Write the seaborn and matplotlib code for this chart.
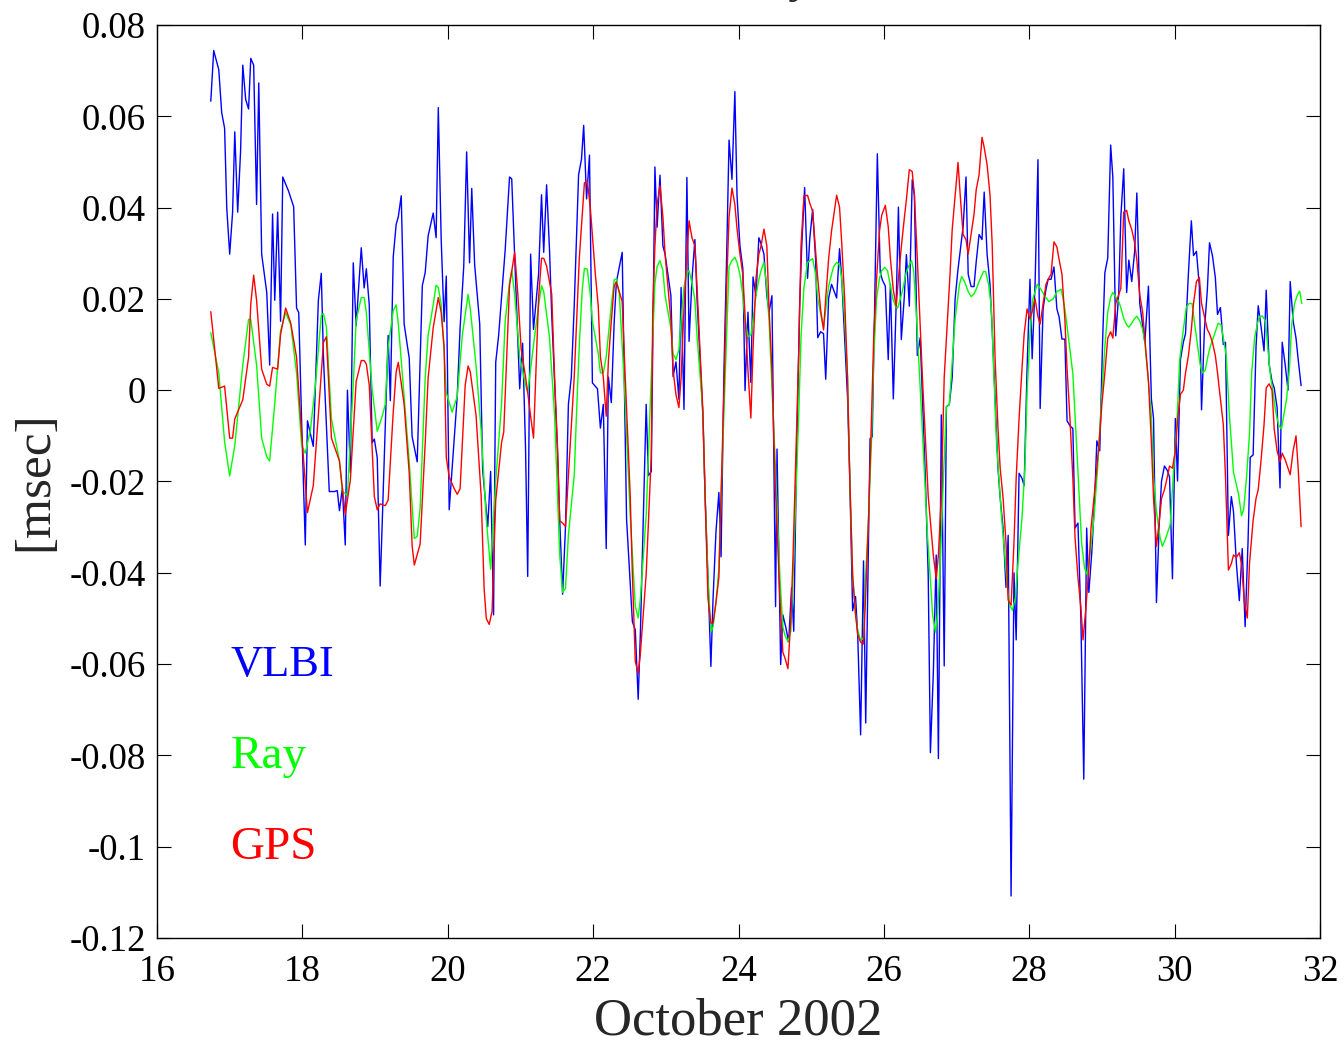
import matplotlib
matplotlib.use("Agg")
import matplotlib.pyplot as plt
import seaborn as sns
import pandas as pd
from matplotlib.ticker import FixedLocator, FixedFormatter

# ---------------- data (day of October 2002, msec) ----------------
vlbi_day = [16.74, 16.78, 16.85, 16.89, 16.93, 16.96, 17.00, 17.04, 17.07, 17.11, 17.15, 17.18, 17.22, 17.26, 17.29, 17.33, 17.37, 17.40, 17.44, 17.51, 17.55, 17.59, 17.62, 17.66, 17.70, 17.73, 17.81, 17.88, 17.92, 17.95, 17.99, 18.04, 18.07, 18.15, 18.22, 18.26, 18.29, 18.37, 18.44, 18.48, 18.51, 18.55, 18.59, 18.62, 18.66,
            18.70, 18.74, 18.81, 18.85, 18.88, 18.92, 18.96, 18.99, 19.03, 19.07, 19.10, 19.18, 19.21, 19.25, 19.29, 19.32, 19.36, 19.40, 19.47, 19.51, 19.58, 19.65, 19.69, 19.73, 19.80, 19.84, 19.87, 19.91, 19.95, 19.98, 20.02, 20.09, 20.13, 20.17, 20.22, 20.26, 20.30, 20.33, 20.37, 20.44, 20.48, 20.55, 20.59, 20.63, 20.66, 20.70,
            20.79, 20.85, 20.88, 20.92, 20.99, 21.03, 21.07, 21.10, 21.14, 21.18, 21.25, 21.29, 21.32, 21.36, 21.40, 21.43, 21.51, 21.54, 21.58, 21.62, 21.66, 21.70, 21.74, 21.80, 21.84, 21.87, 21.91, 21.95, 21.99, 22.06, 22.10, 22.14, 22.18, 22.21, 22.25, 22.29, 22.32, 22.40, 22.46, 22.54, 22.58, 22.62, 22.65, 22.69, 22.73, 22.76, 22.80,
            22.85, 22.88, 22.92, 22.96, 22.99, 23.03, 23.07, 23.10, 23.14, 23.18, 23.21, 23.25, 23.29, 23.32, 23.36, 23.40, 23.43, 23.51, 23.54, 23.58, 23.62, 23.65, 23.69, 23.73, 23.76, 23.80, 23.84, 23.87, 23.91, 23.95, 23.98, 24.02, 24.06, 24.09, 24.13, 24.17, 24.20, 24.24, 24.28, 24.31, 24.35, 24.39, 24.42, 24.46, 24.51, 24.53, 24.58, 24.61, 24.65, 24.69, 24.73, 24.76, 24.80, 24.84, 24.87,
            24.91, 24.95, 24.98, 25.02, 25.06, 25.09, 25.13, 25.17, 25.20, 25.24, 25.28, 25.31, 25.35, 25.39, 25.42, 25.46, 25.50, 25.53, 25.57, 25.61, 25.64, 25.68, 25.72, 25.75, 25.79, 25.81, 25.84, 25.87, 25.91, 25.95, 25.98, 26.02, 26.06, 26.09, 26.13, 26.17, 26.20, 26.24, 26.28, 26.31, 26.35, 26.39, 26.42, 26.46, 26.50, 26.57, 26.61, 26.64, 26.68, 26.72, 26.75, 26.79, 26.83, 26.86, 26.90, 26.94,
            26.98, 27.02, 27.09, 27.13, 27.16, 27.20, 27.24, 27.27, 27.31, 27.35, 27.38, 27.42, 27.46, 27.49, 27.53, 27.57, 27.60, 27.64, 27.68, 27.71, 27.75, 27.79, 27.82, 27.86, 27.90, 27.93, 27.97, 28.01, 28.04, 28.08, 28.12, 28.15, 28.19, 28.23, 28.26, 28.30, 28.34, 28.38, 28.41, 28.45, 28.49, 28.52, 28.56, 28.60, 28.63, 28.67, 28.71, 28.75, 28.79, 28.82, 28.86, 28.90, 28.93, 28.97, 29.01,
            29.04, 29.08, 29.12, 29.15, 29.19, 29.23, 29.26, 29.30, 29.34, 29.37, 29.41, 29.45, 29.48, 29.52, 29.59, 29.64, 29.68, 29.71, 29.75, 29.79, 29.82, 29.86, 29.90, 29.93, 29.97, 30.01, 30.04, 30.08, 30.12, 30.15, 30.19, 30.23, 30.26, 30.30, 30.34, 30.37, 30.41, 30.45, 30.48, 30.52, 30.56, 30.59, 30.63, 30.67, 30.70, 30.74, 30.78, 30.81, 30.85, 30.89, 30.93, 30.97, 31.01, 31.04, 31.08, 31.12, 31.15, 31.19, 31.23, 31.26, 31.30, 31.34, 31.37, 31.41, 31.45, 31.48, 31.52, 31.56, 31.59, 31.63, 31.67, 31.70, 31.74]
vlbi_msec = [0.0633, 0.0744, 0.0702, 0.0608, 0.0574, 0.0398, 0.0298, 0.0390, 0.0566, 0.0390, 0.0524, 0.0712, 0.0637, 0.0616, 0.0727, 0.0712, 0.0407, 0.0673, 0.0298, 0.0214, 0.0055, 0.0386, 0.0197, 0.0390, 0.0151, 0.0467, 0.0436, 0.0402, 0.0180, 0.0170, -0.0071, -0.0339, -0.0067, -0.0123, 0.0197, 0.0256, 0.0072, -0.0222, -0.0222, -0.0220, -0.0264, -0.0214, -0.0339, 0.0000, -0.0180,
             0.0279, 0.0141, 0.0312, 0.0224, 0.0266, 0.0187, -0.0115, -0.0107, -0.0148, -0.0429, -0.0283, 0.0120, -0.0023, 0.0292, 0.0363, 0.0380, 0.0426, 0.0145, 0.0070, -0.0102, -0.0157, 0.0229, 0.0258, 0.0338, 0.0388, 0.0334, 0.0619, 0.0329, 0.0150, 0.0250, -0.0262, -0.0102, -0.0014, 0.0137, 0.0271, 0.0522, 0.0279, 0.0442, 0.0275, 0.0145, -0.0174, -0.0299, -0.0178, -0.0492, 0.0061, 0.0120,
             0.0307, 0.0467, 0.0463, 0.0298, 0.0003, 0.0103, -0.0126, -0.0408, 0.0298, 0.0133, 0.0255, 0.0428, 0.0302, 0.0450, 0.0307, 0.0167, -0.0135, -0.0282, -0.0447, -0.0299, -0.0031, 0.0029, 0.0185, 0.0472, 0.0506, 0.0580, 0.0419, 0.0515, 0.0016, 0.0003, -0.0083, -0.0031, -0.0347, 0.0029, -0.0027, 0.0151, 0.0237, 0.0302, -0.0282, -0.0507, -0.0525, -0.0677, -0.0533, -0.0282, -0.0031, -0.0187, -0.0178,
             0.0489, 0.0357, 0.0471, 0.0316, 0.0298, 0.0253, 0.0207, 0.0030, 0.0062, -0.0020, 0.0225, -0.0042, 0.0466, 0.0107, 0.0243, 0.0330, 0.0198, -0.0056, -0.0229, -0.0410, -0.0605, -0.0456, -0.0310, -0.0224, -0.0365, 0.0044, 0.0316, 0.0548, 0.0462, 0.0654, 0.0425, 0.0316, 0.0266, -0.0001, 0.0171, 0.0017, 0.0248, 0.0207, 0.0334, 0.0321, 0.0298, 0.0207, 0.0171, 0.0207, -0.0474, -0.0129, -0.0601, -0.0492, -0.0519, -0.0551, -0.0433, -0.0528, -0.0138, 0.0180, 0.0316,
             0.0444, 0.0245, 0.0331, 0.0396, 0.0288, 0.0115, 0.0128, 0.0124, 0.0024, 0.0202, 0.0232, 0.0219, 0.0202, 0.0310, 0.0245, 0.0115, -0.0015, -0.0188, -0.0483, -0.0452, -0.0535, -0.0755, -0.0374, -0.0729, -0.0318, -0.0106, -0.0102, 0.0158, 0.0518, 0.0258, 0.0241, 0.0228, 0.0067, 0.0232, -0.0019, 0.0193, 0.0401, 0.0111, 0.0202, 0.0297, 0.0184, 0.0461, 0.0427, 0.0076, 0.0115, -0.0188, -0.0405, -0.0794, -0.0621, -0.0361, -0.0807, -0.0054, -0.0604, -0.0036, -0.0032, 0.0028,
             0.0200, 0.0265, 0.0358, 0.0467, 0.0254, 0.0227, 0.0227, 0.0281, 0.0341, 0.0330, 0.0434, 0.0298, 0.0232, 0.0134, -0.0018, -0.0171, -0.0236, -0.0302, -0.0432, -0.0318, -0.1108, -0.0400, -0.0547, -0.0182, -0.0193, -0.0209, 0.0047, 0.0243, 0.0069, 0.0232, 0.0505, -0.0040, 0.0178, 0.0221, 0.0243, 0.0243, 0.0270, 0.0178, 0.0161, 0.0112, 0.0112, -0.0067, -0.0078, -0.0084, -0.0302, -0.0291, -0.0498, -0.0852, -0.0302, -0.0443, -0.0356, -0.0236, -0.0111, -0.0133, 0.0112,
             0.0257, 0.0290, 0.0537, 0.0466, 0.0119, 0.0209, 0.0380, 0.0485, 0.0214, 0.0285, 0.0238, 0.0304, 0.0432, 0.0190, 0.0105, 0.0228, -0.0019, -0.0062, -0.0465, -0.0285, -0.0199, -0.0166, -0.0176, -0.0190, -0.0413, -0.0062, -0.0199, 0.0067, 0.0105, 0.0124, 0.0257, 0.0371, 0.0295, 0.0304, 0.0228, -0.0043, 0.0133, 0.0219, 0.0323, 0.0295, 0.0247, 0.0166, 0.0181, 0.0100, 0.0105, -0.0318, -0.0233, -0.0266, -0.0380, -0.0461, -0.0347, -0.0518, -0.0332, -0.0147, -0.0142, 0.0095, 0.0185, 0.0138, 0.0086, 0.0219, 0.0057, 0.0019, 0.0005, -0.0038, -0.0214, 0.0105, 0.0057, 0.0000, 0.0238, 0.0152, 0.0114, 0.0067, 0.0010]

ray_day = [16.74, 16.85, 16.93, 17.00, 17.07, 17.18, 17.26, 17.29, 17.37, 17.44, 17.51, 17.55, 17.62, 17.70, 17.77, 17.84, 17.92, 17.99, 18.04, 18.11, 18.18, 18.26, 18.29, 18.33, 18.40, 18.51, 18.55, 18.62,
           18.70, 18.74, 18.81, 18.85, 18.88, 18.96, 19.03, 19.10, 19.14, 19.18, 19.25, 19.29, 19.32, 19.40, 19.47, 19.54, 19.58, 19.62, 19.69, 19.73, 19.80, 19.84, 19.87, 19.91, 19.95, 19.98, 20.06, 20.13, 20.20, 20.28, 20.31, 20.39, 20.46, 20.53, 20.59, 20.66, 20.74,
           20.79, 20.85, 20.88, 20.92, 20.99, 21.07, 21.10, 21.18, 21.25, 21.29, 21.32, 21.40, 21.47, 21.51, 21.54, 21.58, 21.62, 21.66, 21.74, 21.77, 21.81, 21.85, 21.88, 21.92, 21.96, 21.99, 22.07, 22.10, 22.14, 22.18, 22.25, 22.29, 22.32, 22.36, 22.43, 22.51, 22.58, 22.62, 22.65, 22.73, 22.80,
           22.85, 22.88, 22.92, 22.96, 22.99, 23.07, 23.10, 23.14, 23.18, 23.21, 23.25, 23.29, 23.32, 23.36, 23.40, 23.43, 23.51, 23.54, 23.58, 23.62, 23.65, 23.69, 23.73, 23.76, 23.80, 23.84, 23.87, 23.91, 23.95, 23.98, 24.02, 24.06, 24.09, 24.13, 24.17, 24.20, 24.24, 24.28, 24.31, 24.35, 24.39, 24.42, 24.50, 24.57, 24.61, 24.64, 24.68, 24.72, 24.75, 24.79, 24.83, 24.86, 24.90,
           24.95, 24.98, 25.02, 25.06, 25.09, 25.13, 25.17, 25.20, 25.24, 25.28, 25.31, 25.35, 25.39, 25.42, 25.46, 25.50, 25.53, 25.57, 25.61, 25.64, 25.68, 25.72, 25.75, 25.79, 25.83, 25.86, 25.90, 25.94, 25.97, 26.01, 26.05, 26.08, 26.12, 26.16, 26.19, 26.23, 26.27, 26.30, 26.34, 26.38, 26.41, 26.45, 26.52, 26.60, 26.67, 26.71, 26.74, 26.78, 26.82, 26.86, 26.90,
           26.98, 27.04, 27.07, 27.11, 27.16, 27.20, 27.24, 27.27, 27.31, 27.37, 27.40, 27.44, 27.48, 27.51, 27.55, 27.62, 27.70, 27.73, 27.77, 27.81, 27.84, 27.90, 27.94, 27.97, 28.01, 28.05, 28.11, 28.16, 28.22, 28.27, 28.33, 28.38, 28.44, 28.49, 28.55, 28.60, 28.65, 28.72, 28.76, 28.80, 28.83, 28.89, 28.94, 29.00,
           29.04, 29.08, 29.12, 29.15, 29.19, 29.23, 29.26, 29.30, 29.34, 29.37, 29.41, 29.45, 29.48, 29.52, 29.56, 29.59, 29.64, 29.68, 29.71, 29.75, 29.80, 29.83, 29.87, 29.91, 29.94, 29.98, 30.03, 30.07, 30.12, 30.16, 30.20, 30.24, 30.27, 30.31, 30.35, 30.38, 30.42, 30.46, 30.49, 30.53, 30.57, 30.60, 30.64, 30.68, 30.71, 30.75, 30.81, 30.88, 30.92, 30.95, 30.99, 31.03, 31.06, 31.10, 31.14, 31.17, 31.21, 31.25, 31.28, 31.32, 31.35, 31.39, 31.43, 31.47, 31.50, 31.54, 31.58, 31.61, 31.65, 31.69, 31.72, 31.75]
ray_msec = [0.0126, 0.0038, -0.0113, -0.0188, -0.0121, 0.0055, 0.0155, 0.0155, 0.0055, -0.0105, -0.0146, -0.0155, -0.0029, 0.0130, 0.0170, 0.0143, 0.0038, -0.0121, -0.0138, -0.0088, 0.0013, 0.0164, 0.0168, 0.0139, -0.0063, -0.0155, -0.0222, -0.0230,
            0.0013, 0.0153, 0.0203, 0.0203, 0.0170, 0.0002, -0.0090, -0.0056, -0.0031, 0.0095, 0.0174, 0.0187, 0.0145, -0.0014, -0.0157, -0.0325, -0.0320, -0.0258, 0.0028, 0.0120, 0.0187, 0.0230, 0.0225, 0.0187, 0.0086, -0.0006, -0.0048, -0.0014, 0.0120, 0.0210, 0.0178, 0.0053, -0.0090, -0.0283, -0.0392, -0.0199, -0.0031,
            0.0151, 0.0237, 0.0263, 0.0211, 0.0073, 0.0012, -0.0005, 0.0099, 0.0185, 0.0229, 0.0216, 0.0116, -0.0057, -0.0230, -0.0360, -0.0443, -0.0434, -0.0317, -0.0187, -0.0057, 0.0099, 0.0220, 0.0267, 0.0265, 0.0211, 0.0151, 0.0081, 0.0038, 0.0038, 0.0073, 0.0185, 0.0242, 0.0244, 0.0211, 0.0012, -0.0274, -0.0473, -0.0499, -0.0456, -0.0274, 0.0029,
            0.0234, 0.0271, 0.0284, 0.0262, 0.0207, 0.0135, 0.0080, 0.0067, 0.0089, 0.0153, 0.0225, 0.0257, 0.0262, 0.0234, 0.0198, 0.0117, -0.0047, -0.0229, -0.0410, -0.0528, -0.0519, -0.0465, -0.0392, -0.0229, -0.0047, 0.0135, 0.0271, 0.0284, 0.0291, 0.0280, 0.0253, 0.0207, 0.0153, 0.0117, 0.0121, 0.0153, 0.0207, 0.0243, 0.0262, 0.0280, 0.0225, 0.0153, -0.0138, -0.0410, -0.0519, -0.0537, -0.0551, -0.0528, -0.0410, -0.0229, -0.0047, 0.0117, 0.0225,
            0.0280, 0.0284, 0.0288, 0.0254, 0.0202, 0.0167, 0.0137, 0.0176, 0.0228, 0.0254, 0.0271, 0.0280, 0.0275, 0.0245, 0.0158, 0.0028, -0.0188, -0.0405, -0.0491, -0.0526, -0.0548, -0.0543, -0.0405, -0.0275, -0.0110, 0.0072, 0.0202, 0.0245, 0.0262, 0.0269, 0.0262, 0.0237, 0.0202, 0.0184, 0.0180, 0.0202, 0.0228, 0.0254, 0.0271, 0.0284, 0.0262, 0.0158, -0.0058, -0.0318, -0.0491, -0.0530, -0.0491, -0.0361, -0.0188, -0.0036, -0.0032,
            0.0156, 0.0232, 0.0249, 0.0238, 0.0216, 0.0205, 0.0211, 0.0221, 0.0238, 0.0260, 0.0260, 0.0232, 0.0178, 0.0047, -0.0116, -0.0280, -0.0432, -0.0471, -0.0482, -0.0454, -0.0389, -0.0280, -0.0171, -0.0007, 0.0123, 0.0200, 0.0232, 0.0221, 0.0205, 0.0194, 0.0200, 0.0216, 0.0221, 0.0178, 0.0102, 0.0036, -0.0116, -0.0334, -0.0389, -0.0405, -0.0367, -0.0280, -0.0171, -0.0007,
            0.0095, 0.0171, 0.0204, 0.0214, 0.0204, 0.0195, 0.0181, 0.0157, 0.0143, 0.0138, 0.0147, 0.0157, 0.0162, 0.0152, 0.0133, 0.0105, 0.0019, -0.0057, -0.0190, -0.0266, -0.0323, -0.0342, -0.0328, -0.0309, -0.0294, -0.0190, -0.0076, 0.0067, 0.0133, 0.0181, 0.0190, 0.0190, 0.0152, 0.0105, 0.0057, 0.0038, 0.0043, 0.0076, 0.0095, 0.0114, 0.0133, 0.0147, 0.0143, 0.0105, 0.0076, -0.0047, -0.0180, -0.0228, -0.0275, -0.0261, -0.0190, -0.0095, 0.0038, 0.0114, 0.0147, 0.0162, 0.0162, 0.0152, 0.0095, 0.0029, 0.0000, -0.0047, -0.0076, -0.0085, -0.0057, -0.0019, 0.0048, 0.0143, 0.0190, 0.0209, 0.0217, 0.0190]

gps_day = [16.74, 16.85, 16.93, 17.00, 17.04, 17.07, 17.18, 17.26, 17.29, 17.33, 17.37, 17.44, 17.51, 17.55, 17.59, 17.66, 17.70, 17.77, 17.84, 17.92, 17.99, 18.07, 18.15, 18.22, 18.29, 18.33, 18.40, 18.51, 18.59, 18.66,
           18.74, 18.81, 18.85, 18.88, 18.92, 18.99, 19.03, 19.07, 19.14, 19.18, 19.25, 19.29, 19.32, 19.40, 19.47, 19.51, 19.54, 19.62, 19.69, 19.73, 19.80, 19.84, 19.87, 19.91, 19.95, 19.98, 20.02, 20.09, 20.13, 20.17, 20.24, 20.28, 20.31, 20.39, 20.46, 20.50, 20.53, 20.57, 20.61, 20.66, 20.74,
           20.77, 20.85, 20.92, 20.96, 21.01, 21.07, 21.10, 21.14, 21.18, 21.21, 21.25, 21.29, 21.32, 21.36, 21.43, 21.47, 21.51, 21.54, 21.58, 21.62, 21.66, 21.74, 21.81, 21.88, 21.92, 21.96, 22.03, 22.07, 22.10, 22.14, 22.18, 22.21, 22.25, 22.29, 22.32, 22.40, 22.43, 22.51, 22.54, 22.58, 22.62, 22.65, 22.73, 22.80, 22.82,
           22.85, 22.88, 22.92, 22.96, 22.99, 23.03, 23.07, 23.10, 23.14, 23.18, 23.21, 23.25, 23.29, 23.32, 23.36, 23.40, 23.43, 23.47, 23.51, 23.54, 23.58, 23.62, 23.65, 23.69, 23.73, 23.76, 23.80, 23.84, 23.87, 23.91, 23.95, 23.98, 24.02, 24.06, 24.09, 24.13, 24.17, 24.20, 24.24, 24.28, 24.31, 24.35, 24.39, 24.42, 24.46, 24.50, 24.57, 24.61, 24.64, 24.68, 24.72, 24.75, 24.79, 24.83, 24.86, 24.90,
           24.95, 24.98, 25.02, 25.06, 25.09, 25.13, 25.17, 25.20, 25.24, 25.28, 25.31, 25.35, 25.39, 25.42, 25.46, 25.50, 25.53, 25.57, 25.61, 25.64, 25.68, 25.72, 25.75, 25.79, 25.83, 25.86, 25.90, 25.94, 25.97, 26.02, 26.06, 26.09, 26.13, 26.17, 26.20, 26.24, 26.28, 26.31, 26.35, 26.39, 26.42, 26.46, 26.53, 26.61, 26.68, 26.72, 26.75, 26.79, 26.83,
           26.91, 26.94, 27.02, 27.05, 27.09, 27.13, 27.16, 27.20, 27.24, 27.27, 27.31, 27.35, 27.38, 27.42, 27.46, 27.49, 27.53, 27.57, 27.60, 27.64, 27.68, 27.71, 27.75, 27.79, 27.82, 27.86, 27.90, 27.93, 27.97, 28.01, 28.04, 28.08, 28.12, 28.15, 28.19, 28.23, 28.26, 28.30, 28.34, 28.38, 28.41, 28.45, 28.49, 28.52, 28.56, 28.60, 28.63, 28.67, 28.71, 28.74, 28.78, 28.82, 28.85, 28.89, 28.93, 28.96, 29.00,
           29.04, 29.08, 29.12, 29.15, 29.19, 29.23, 29.26, 29.30, 29.34, 29.37, 29.41, 29.45, 29.48, 29.52, 29.56, 29.59, 29.64, 29.68, 29.71, 29.75, 29.79, 29.82, 29.86, 29.90, 29.93, 29.97, 30.01, 30.04, 30.08, 30.12, 30.15, 30.19, 30.23, 30.26, 30.30, 30.34, 30.37, 30.41, 30.45, 30.48, 30.52, 30.56, 30.59, 30.63, 30.67, 30.70, 30.74, 30.78, 30.81, 30.85, 30.89, 30.92, 30.96, 31.00, 31.03, 31.08, 31.12, 31.15, 31.19, 31.23, 31.26, 31.30, 31.34, 31.37, 31.41, 31.45, 31.48, 31.52, 31.56, 31.59, 31.63, 31.67, 31.70, 31.74]
gps_msec = [0.0172, 0.0004, 0.0009, -0.0105, -0.0105, -0.0063, -0.0021, 0.0072, 0.0189, 0.0252, 0.0197, 0.0046, 0.0013, 0.0009, 0.0050, 0.0046, 0.0122, 0.0180, 0.0147, 0.0072, -0.0096, -0.0268, -0.0209, -0.0054, 0.0105, 0.0117, -0.0105, -0.0155, -0.0272, -0.0197,
            0.0019, 0.0065, 0.0065, 0.0057, 0.0011, -0.0233, -0.0262, -0.0249, -0.0253, -0.0241, -0.0048, 0.0040, 0.0061, -0.0031, -0.0182, -0.0341, -0.0383, -0.0337, -0.0115, 0.0027, 0.0137, 0.0174, 0.0203, 0.0170, 0.0095, -0.0148, -0.0190, -0.0216, -0.0228, -0.0216, 0.0011, 0.0053, 0.0040, -0.0056, -0.0233, -0.0433, -0.0500, -0.0513, -0.0484, -0.0241, -0.0115,
            -0.0092, 0.0229, 0.0302, 0.0220, 0.0090, 0.0029, -0.0005, -0.0057, -0.0105, 0.0029, 0.0203, 0.0289, 0.0289, 0.0272, 0.0211, 0.0029, -0.0126, -0.0286, -0.0291, -0.0299, -0.0187, 0.0029, 0.0289, 0.0454, 0.0458, 0.0402, 0.0255, 0.0185, 0.0073, 0.0029, -0.0057, 0.0064, 0.0151, 0.0229, 0.0237, 0.0194, 0.0073, -0.0230, -0.0403, -0.0594, -0.0620, -0.0577, -0.0403, -0.0144, 0.0171,
            0.0316, 0.0407, 0.0448, 0.0380, 0.0298, 0.0225, 0.0153, 0.0044, -0.0010, -0.0038, 0.0026, 0.0180, 0.0298, 0.0371, 0.0334, 0.0316, 0.0225, 0.0089, -0.0047, -0.0229, -0.0456, -0.0510, -0.0510, -0.0465, -0.0410, -0.0229, -0.0001, 0.0244, 0.0380, 0.0443, 0.0407, 0.0353, 0.0298, 0.0253, 0.0162, 0.0044, -0.0061, 0.0089, 0.0244, 0.0298, 0.0316, 0.0353, 0.0316, 0.0180, 0.0044, -0.0183, -0.0456, -0.0574, -0.0587, -0.0610, -0.0501, -0.0365, -0.0138, 0.0089, 0.0316, 0.0425,
            0.0427, 0.0410, 0.0392, 0.0306, 0.0245, 0.0176, 0.0132, 0.0202, 0.0288, 0.0349, 0.0383, 0.0427, 0.0401, 0.0323, 0.0202, 0.0028, -0.0188, -0.0405, -0.0491, -0.0535, -0.0552, -0.0556, -0.0448, -0.0275, -0.0058, 0.0115, 0.0245, 0.0349, 0.0383, 0.0405, 0.0358, 0.0288, 0.0219, 0.0184, 0.0245, 0.0314, 0.0375, 0.0418, 0.0483, 0.0479, 0.0427, 0.0288, 0.0028, -0.0232, -0.0361, -0.0413, -0.0361, -0.0232, 0.0028,
            0.0254, 0.0352, 0.0499, 0.0428, 0.0341, 0.0330, 0.0298, 0.0341, 0.0385, 0.0439, 0.0472, 0.0554, 0.0532, 0.0494, 0.0428, 0.0320, 0.0069, -0.0084, -0.0171, -0.0236, -0.0334, -0.0460, -0.0471, -0.0334, -0.0193, -0.0062, 0.0047, 0.0123, 0.0178, 0.0156, 0.0172, 0.0200, 0.0161, 0.0145, 0.0189, 0.0232, 0.0243, 0.0254, 0.0325, 0.0314, 0.0287, 0.0254, 0.0156, 0.0047, -0.0062, -0.0193, -0.0323, -0.0410, -0.0476, -0.0547, -0.0476, -0.0389, -0.0302, -0.0236, -0.0171, -0.0116, -0.0029,
            0.0038, 0.0114, 0.0128, 0.0114, 0.0190, 0.0209, 0.0223, 0.0390, 0.0394, 0.0371, 0.0352, 0.0323, 0.0285, 0.0209, 0.0171, 0.0114, 0.0019, -0.0114, -0.0237, -0.0342, -0.0285, -0.0237, -0.0218, -0.0190, -0.0166, -0.0171, -0.0133, -0.0066, -0.0009, 0.0000, 0.0038, 0.0076, 0.0133, 0.0190, 0.0238, 0.0247, 0.0190, 0.0162, 0.0133, 0.0124, 0.0105, 0.0076, 0.0038, -0.0019, -0.0076, -0.0190, -0.0394, -0.0380, -0.0361, -0.0366, -0.0356, -0.0380, -0.0465, -0.0499, -0.0380, -0.0285, -0.0237, -0.0218, -0.0152, -0.0076, 0.0005, 0.0014, 0.0000, -0.0085, -0.0133, -0.0157, -0.0138, -0.0152, -0.0171, -0.0185, -0.0133, -0.0100, -0.0171, -0.0299]

series_names = ["VLBI", "Ray", "GPS"]
series_colors = ["#0000ff", "#00ff00", "#ff0000"]

x_ticks = [16, 18, 20, 22, 24, 26, 28, 30, 32]
x_ticklabels = ["16", "18", "20", "22", "24", "26", "28", "30", "32"]
y_ticks = [0.08, 0.06, 0.04, 0.02, 0.0, -0.02, -0.04, -0.06, -0.08, -0.1, -0.12]
y_ticklabels = ["0.08", "0.06", "0.04", "0.02", "0", "-0.02", "-0.04", "-0.06", "-0.08", "-0.1", "-0.12"]
x_label = "October 2002"
y_label = "[msec]"
title_text = "UT1 variability"

# ---------------- figure ----------------
sns.set_style("ticks")
plt.rcParams["font.family"] = ["Liberation Serif", "DejaVu Serif"]
plt.rcParams["axes.unicode_minus"] = False

fig = plt.figure(figsize=(13.44, 10.45), dpi=100)
ax = fig.add_axes([157 / 1344, 1 - 938 / 1045, (1320 - 157) / 1344, (938 - 25) / 1045])

frames = [
    pd.DataFrame({"day": vlbi_day, "msec": vlbi_msec}),
    pd.DataFrame({"day": ray_day, "msec": ray_msec}),
    pd.DataFrame({"day": gps_day, "msec": gps_msec}),
]
for df, col in zip(frames, series_colors):
    sns.lineplot(data=df, x="day", y="msec", color=col, lw=1.0,
                 estimator=None, sort=False, ax=ax)

ax.set_xlim(16, 32)
ax.set_ylim(-0.12, 0.08)
ax.xaxis.set_major_locator(FixedLocator(x_ticks))
ax.xaxis.set_major_formatter(FixedFormatter(x_ticklabels))
ax.yaxis.set_major_locator(FixedLocator(y_ticks))
ax.yaxis.set_major_formatter(FixedFormatter(y_ticklabels))
ax.tick_params(direction="in", length=10, width=0.8, top=True, right=True,
               labelsize=26.5, colors="black")
ax.tick_params(axis="x", pad=12)
ax.tick_params(axis="y", pad=8)
for sp in ax.spines.values():
    sp.set_visible(True)
    sp.set_linewidth(1.0)
    sp.set_color("black")

ax.set_xlabel(x_label, fontsize=38, labelpad=6)
ax.set_ylabel(y_label, fontsize=37, labelpad=8)

label_y = [0.299, 0.199, 0.099]
label_size = [32, 34, 34]
for name, col, yy, fs in zip(series_names, series_colors, label_y, label_size):
    ax.text(0.063, yy, name, color=col, fontsize=fs, transform=ax.transAxes,
            ha="left", va="center")

# title mostly outside the canvas (only the descender is visible in the reference)
fig.text(812 / 1344, 1.008, title_text, fontsize=34, ha="right", va="baseline")

fig.savefig("out.png", dpi=100)
